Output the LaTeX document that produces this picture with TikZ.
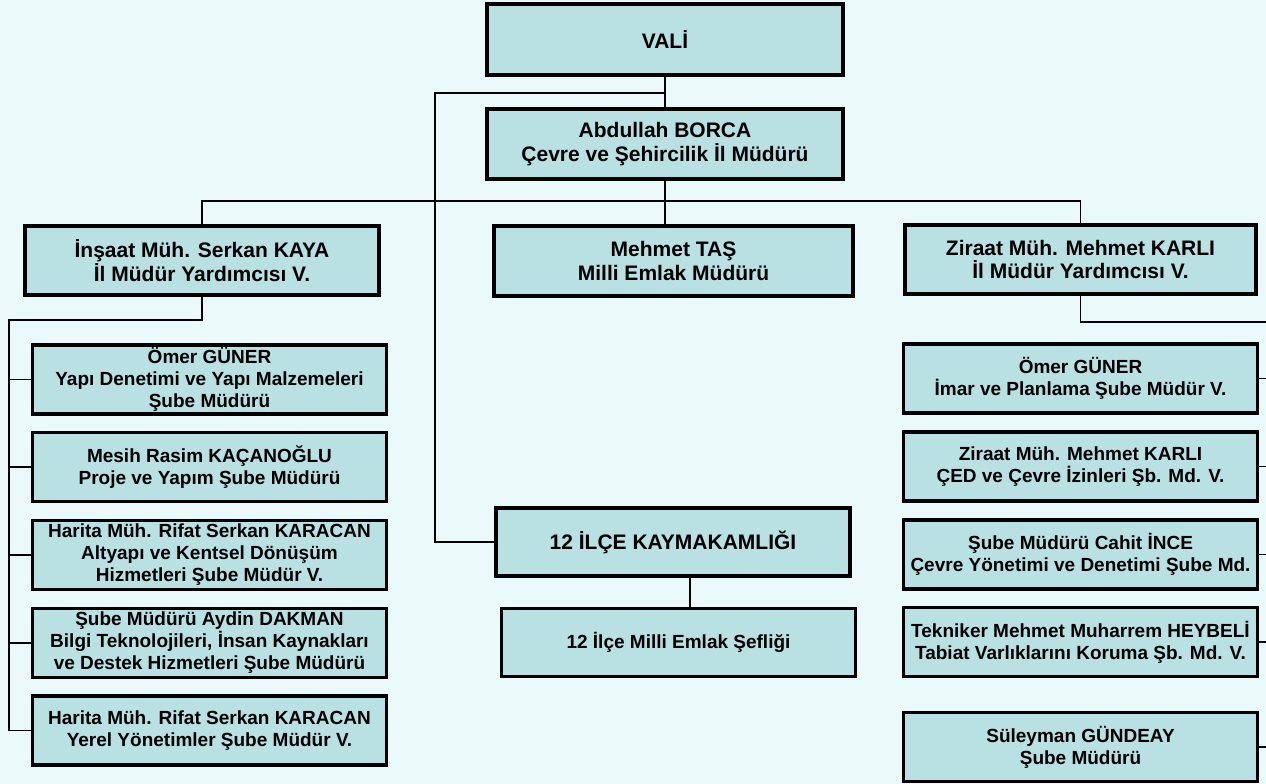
\documentclass[tikz,border=0pt]{standalone}
\usepackage{fontspec}
\setmainfont{Liberation Sans}
\definecolor{pagecyan}{RGB}{234,250,250}
\definecolor{boxcyan}{RGB}{185,224,227}

\begin{document}
\begin{tikzpicture}[x=0.75pt,y=-0.75pt]
    \tikzstyle{bigbox}=[draw=black, fill=boxcyan, line width=3.3pt, align=center, inner sep=1pt, font=\bfseries\fontsize{15.75}{17.5}\selectfont]
    \tikzstyle{smallbox}=[draw=black, fill=boxcyan, line width=2.3pt, align=center, inner sep=1pt, font=\bfseries\fontsize{14.25}{16.5}\selectfont, minimum width=354*0.75pt, minimum height=69*0.75pt]
    \tikzstyle{link}=[draw=black, line width=1.3pt]
    \fill[pagecyan] (0,0) rectangle (1266,784);
    \useasboundingbox (0,0) rectangle (1266,784);
    % top of the chart
    \node[bigbox, minimum width=356*0.75pt, minimum height=71*0.75pt] (vali) at (665,39.5) {VALİ};
    \node[bigbox, minimum width=356*0.75pt, minimum height=70*0.75pt] (abd) at (665,144) {Abdullah BORCA\\Çevre ve Şehircilik İl Müdürü};
    \node[bigbox, minimum width=354*0.75pt, minimum height=69*0.75pt] (insaat) at (202,260.5) {İnşaat Müh. Serkan KAYA\\İl Müdür Yardımcısı V.};
    \node[bigbox, minimum width=359*0.75pt, minimum height=70*0.75pt] (tas) at (673.5,261) {Mehmet TAŞ\\Milli Emlak Müdürü};
    \node[bigbox, minimum width=351*0.75pt, minimum height=69*0.75pt] (ziraat) at (1080.5,259.5) {Ziraat Müh. Mehmet KARLI\\İl Müdür Yardımcısı V.};
    \node[bigbox, minimum width=354*0.75pt, minimum height=68*0.75pt] (kaym) at (673,542) {12 İLÇE KAYMAKAMLIĞI};
    \node[smallbox, line width=2pt, minimum height=68*0.75pt] (sefl) at (678.5,642.5) {12 İlçe Milli Emlak Şefliği};
    % left column
    \node[smallbox] (ls1) at (209.5,379.5) {Ömer GÜNER\\Yapı Denetimi ve Yapı Malzemeleri\\Şube Müdürü};
    \node[smallbox] (ls2) at (209.5,467) {Mesih Rasim KAÇANOĞLU\\Proje ve Yapım Şube Müdürü};
    \node[smallbox] (ls3) at (209.5,555) {Harita Müh. Rifat Serkan KARACAN\\Altyapı ve Kentsel Dönüşüm\\Hizmetleri Şube Müdür V.};
    \node[smallbox] (ls4) at (209.5,643) {Şube Müdürü Aydin DAKMAN\\Bilgi Teknolojileri, İnsan Kaynakları\\ve Destek Hizmetleri Şube Müdürü};
    \node[smallbox] (ls5) at (209.5,730.5) {Harita Müh. Rifat Serkan KARACAN\\Yerel Yönetimler Şube Müdür V.};
    % right column
    \node[smallbox] (rs1) at (1080.5,378.5) {Ömer GÜNER\\İmar ve Planlama Şube Müdür V.};
    \node[smallbox] (rs2) at (1080.5,466.5) {Ziraat Müh. Mehmet KARLI\\ÇED ve Çevre İzinleri Şb. Md. V.};
    \node[smallbox] (rs3) at (1080.5,554.5) {Şube Müdürü Cahit İNCE\\Çevre Yönetimi ve Denetimi Şube Md.};
    \node[smallbox] (rs4) at (1080.5,642) {Tekniker Mehmet Muharrem HEYBELİ\\Tabiat Varlıklarını Koruma Şb. Md. V.};
    \node[smallbox] (rs5) at (1080.5,747) {Süleyman GÜNDEAY\\Şube Müdürü};
    % connectors
    \coordinate (kayjog) at (435,93);
    \coordinate (rowbus) at (0,201);
    \coordinate (lefttrunk) at (9,320);
    \coordinate (righttrunk) at (1269,322);
    \coordinate (sefljoin) at (690,0);
    \draw[link] (vali) -- (abd);
    \draw[link] (vali.south |- kayjog) -- (kayjog) |- (kaym.west);
    \draw[link] (abd.south) -- (abd.south |- tas.north);
    \draw[link] (insaat.north) -- (insaat.north |- rowbus) -- (ziraat.north |- rowbus) -- (ziraat.north);
    \draw[link] (kaym.south -| sefljoin) -- (sefl.north -| sefljoin);
    \draw[link] (insaat.south) |- (lefttrunk) -- (lefttrunk |- ls5.west);
    \draw[link] (lefttrunk |- ls1.west) -- (ls1.west);
    \draw[link] (lefttrunk |- ls2.west) -- (ls2.west);
    \draw[link] (lefttrunk |- ls3.west) -- (ls3.west);
    \draw[link] (lefttrunk |- ls4.west) -- (ls4.west);
    \draw[link] (lefttrunk |- ls5.west) -- (ls5.west);
    \draw[link] (ziraat.south) |- (righttrunk) -- (righttrunk |- rs5.east);
    \draw[link] (righttrunk |- rs1.east) -- (rs1.east);
    \draw[link] (righttrunk |- rs2.east) -- (rs2.east);
    \draw[link] (righttrunk |- rs3.east) -- (rs3.east);
    \draw[link] (righttrunk |- rs4.east) -- (rs4.east);
    \draw[link] (righttrunk |- rs5.east) -- (rs5.east);
\end{tikzpicture}
\end{document}
